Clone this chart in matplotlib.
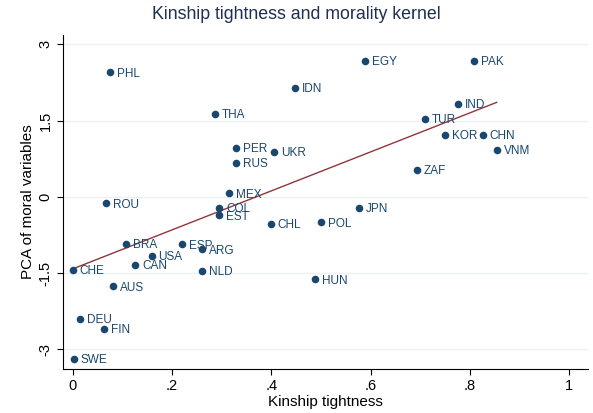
import numpy as np
import matplotlib
matplotlib.use("Agg")
import matplotlib.pyplot as plt

plt.rcParams["font.family"] = ["Liberation Sans", "DejaVu Sans"]

countries = ["PHL", "IDN", "THA", "PER", "UKR", "RUS", "MEX", "ROU", "COL", "EST",
             "CHL", "POL", "JPN", "HUN", "BRA", "ESP", "ARG", "USA", "CAN", "CHE",
             "NLD", "AUS", "DEU", "FIN", "SWE", "EGY", "PAK", "IND", "TUR", "KOR",
             "CHN", "VNM", "ZAF"]
kinship = [0.076, 0.448, 0.286, 0.328, 0.406, 0.328, 0.315, 0.067, 0.295, 0.294,
           0.399, 0.500, 0.576, 0.489, 0.107, 0.220, 0.260, 0.159, 0.126, 0.000,
           0.261, 0.082, 0.014, 0.063, 0.002, 0.589, 0.808, 0.776, 0.710, 0.749,
           0.826, 0.854, 0.693]
morality = [2.45, 2.14, 1.63, 0.97, 0.89, 0.67, 0.07, -0.13, -0.21, -0.36,
            -0.53, -0.50, -0.21, -1.62, -0.92, -0.93, -1.03, -1.16, -1.34, -1.43,
            -1.45, -1.76, -2.40, -2.60, -3.19, 2.68, 2.68, 1.83, 1.53, 1.22,
            1.22, 0.93, 0.53]

x_ticks = [0, 0.2, 0.4, 0.6, 0.8, 1.0]
x_tick_labels = ["0", ".2", ".4", ".6", ".8", "1"]
y_ticks = [-3, -1.5, 0, 1.5, 3]
y_tick_labels = ["-3", "-1.5", "0", "1.5", "3"]

navy = "#1a476f"
title_navy = "#1e2f52"
maroon = "#90353b"
grid_col = "#eaf2f3"

fig = plt.figure(figsize=(5.93, 4.13), dpi=100)
ax = fig.add_axes([0.1067, 0.1065, 0.885, 0.8085])

x = np.array(kinship)
y = np.array(morality)

ax.set_xlim(-0.019, 1.038)
ax.set_ylim(-3.385, 3.18)
ax.set_axisbelow(True)
ax.yaxis.grid(True, color=grid_col, linewidth=1.0)

ax.scatter(x, y, s=30, color=navy, zorder=3, linewidths=0)
for name, xi, yi in zip(countries, x, y):
    ax.annotate(name, (xi, yi), xytext=(5, -1), textcoords="offset points",
                ha="left", va="center", fontsize=8.5, color=navy, zorder=4)

slope, intercept = np.polyfit(x, y, 1)
xs = np.array([x.min(), x.max()])
ax.plot(xs, intercept + slope * xs, color=maroon, linewidth=1.0, zorder=2)

ax.set_xticks(x_ticks)
ax.set_xticklabels(x_tick_labels)
ax.set_yticks(y_ticks)
ax.set_yticklabels(y_tick_labels, rotation=90, va="center")
ax.tick_params(axis="both", labelsize=10.5, length=4.5, width=0.8, color="black", pad=3)

for side in ["top", "right"]:
    ax.spines[side].set_visible(False)
for side in ["left", "bottom"]:
    ax.spines[side].set_linewidth(0.8)

ax.set_xlabel("Kinship tightness", fontsize=11, labelpad=1)
ax.set_ylabel("PCA of moral variables", fontsize=11, labelpad=3)
fig.suptitle("Kinship tightness and morality kernel", fontsize=12.8, color=title_navy, y=0.985)

fig.savefig("out.png", dpi=100)
